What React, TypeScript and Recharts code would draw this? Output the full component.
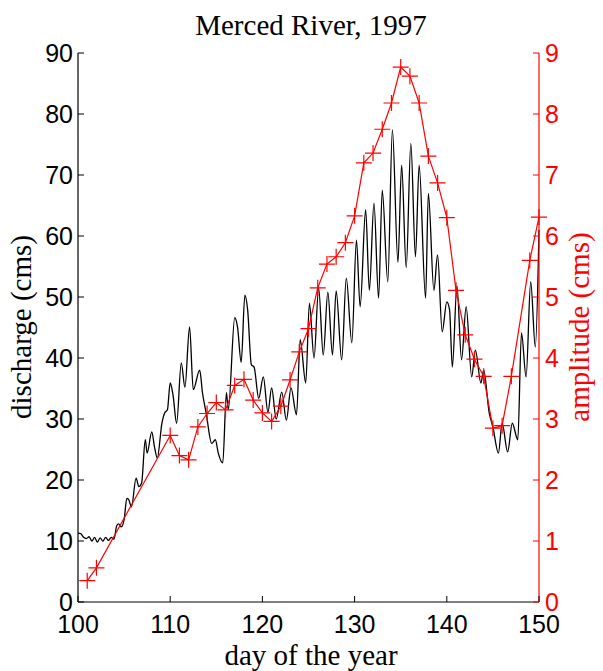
import React from 'react';
import { LineChart, Line, XAxis, YAxis } from 'recharts';

const dischargeDays = [
  100.0, 100.3, 100.6, 100.9, 101.2, 101.5, 101.8, 102.1, 102.4, 102.7, 103.0, 103.3, 103.6, 103.9,
  104.2, 104.4, 104.7, 105.0, 105.3, 105.5, 105.8, 106.3, 106.6, 106.9, 107.3, 107.5, 108.0, 108.3,
  108.6, 109.1, 109.4, 109.7, 110.0, 110.3, 110.7, 111.2, 111.6, 112.1, 112.5, 113.2, 113.5, 113.9,
  114.5, 114.9, 115.2, 115.7, 116.1, 116.3, 117.0, 117.3, 117.7, 118.1, 118.4, 118.8, 119.1, 119.6,
  120.1, 120.6, 121.0, 121.5, 122.1, 122.6, 123.1, 123.7, 124.1, 124.7, 125.1, 125.6, 126.1, 126.6,
  127.1, 127.6, 128.0, 128.6, 129.1, 129.7, 130.2, 130.6, 131.2, 131.6, 132.1, 132.6, 133.0, 133.6,
  134.1, 134.7, 135.1, 135.6, 136.1, 136.6, 137.0, 137.7, 138.0, 138.6, 139.0, 139.5, 140.0, 140.3,
  140.6, 141.1, 141.6, 142.1, 142.7, 143.1, 143.7, 144.0, 144.6, 145.0, 145.6, 146.0, 146.6, 147.1,
  147.7, 148.1, 148.6, 149.1, 149.6, 150.0,
];
const dischargeValues = [
  11.3, 11.2, 10.6, 10.4, 10.7, 10.0, 10.6, 9.8, 10.5, 10.0, 10.6, 10.1, 10.6, 10.3,
  12.5, 12.8, 12.3, 13.5, 17.0, 16.8, 15.6, 20.3, 18.9, 19.5, 26.6, 24.4, 27.9, 25.4,
  23.6, 29.3, 31.0, 31.5, 35.9, 34.0, 29.3, 39.2, 35.2, 45.1, 34.8, 38.0, 34.3, 31.0,
  26.0, 26.6, 24.5, 22.8, 34.3, 31.5, 46.6, 45.1, 39.3, 50.3, 47.9, 38.9, 38.5, 33.4,
  36.9, 31.1, 35.1, 30.0, 34.4, 29.8, 35.1, 30.7, 43.0, 35.9, 49.0, 40.0, 51.5, 40.5,
  50.8, 40.5, 51.0, 39.7, 53.1, 42.5, 59.3, 48.4, 64.3, 51.1, 65.4, 49.8, 67.5, 52.5,
  77.4, 55.7, 71.6, 54.8, 75.2, 56.6, 71.6, 49.8, 67.0, 51.1, 56.9, 44.3, 49.2, 47.9,
  38.5, 51.8, 39.7, 48.4, 36.9, 41.3, 35.9, 38.0, 31.0, 28.7, 24.4, 29.3, 24.6, 29.3,
  26.6, 44.1, 36.9, 52.5, 41.8, 61.0,
];

// daily amplitude (cms)
const amplitudeDays = [
  101, 102, 110, 111, 112, 113, 114, 115, 116, 117, 118, 119, 120, 121, 122, 123, 124, 125, 126,
  127, 128, 129, 130, 131, 132, 133, 134, 135, 136, 137, 138, 139, 140, 141, 142, 143, 144, 145,
  146, 147, 149, 150,
];
const amplitudeValues = [
  0.35, 0.56, 2.73, 2.4, 2.33, 2.87, 3.09, 3.27, 3.15, 3.55, 3.65, 3.31, 3.1, 2.96, 3.21, 3.64,
  4.1, 4.48, 5.15, 5.54, 5.66, 5.89, 6.33, 7.2, 7.36, 7.75, 8.18, 8.77, 8.62, 8.18, 7.31, 6.87,
  6.3, 5.11, 4.38, 3.98, 3.7, 2.85, 2.89, 3.7, 5.6, 6.31,
];

const xTicks = [100, 110, 120, 130, 140, 150];
const leftTicks = [0, 10, 20, 30, 40, 50, 60, 70, 80, 90];
const rightTicks = [0, 1, 2, 3, 4, 5, 6, 7, 8, 9];

const discharge = dischargeDays.map((d, i) => ({ day: d, q: dischargeValues[i] }));
const amplitude = amplitudeDays.map((d, i) => ({ day: d, a: amplitudeValues[i] }));

const SANS = '"Liberation Sans", Arial, sans-serif';
const SERIF = '"Liberation Serif", "Times New Roman", serif';
const RED = '#ff0000';

const BottomTick = ({ x, y, payload }: any) => (
  <g>
    <line x1={x} y1={y} x2={x} y2={y - 6} stroke="#000" />
    <text x={x} y={y + 31} textAnchor="middle" fontSize={25} fontFamily={SANS} fill="#000">
      {payload.value}
    </text>
  </g>
);

const LeftTick = ({ x, y, payload }: any) => (
  <g>
    <line x1={x} y1={y} x2={x + 6} y2={y} stroke="#000" />
    <text x={x - 5} y={y + 9} textAnchor="end" fontSize={25} fontFamily={SANS} fill="#000">
      {payload.value}
    </text>
  </g>
);

const RightTick = ({ x, y, payload }: any) => (
  <g>
    <line x1={x} y1={y} x2={x - 6} y2={y} stroke={RED} />
    <text x={x + 6} y={y + 9} textAnchor="start" fontSize={25} fontFamily={SANS} fill={RED}>
      {payload.value}
    </text>
  </g>
);

const PlusDot = (props: any) => {
  const { cx, cy, index } = props;
  return (
    <path
      key={`p-${index}`}
      d={`M${cx - 8},${cy}H${cx + 8}M${cx},${cy - 8}V${cy + 8}`}
      stroke={RED}
      strokeWidth={1.2}
      fill="none"
    />
  );
};

export default function App() {
  return (
    <div style={{ position: 'absolute', left: 0, top: 0, width: 603, height: 671, background: '#fff' }}>
      <LineChart width={603} height={671} margin={{ top: 53, right: 0, bottom: 0, left: 0 }}>
        <XAxis
          dataKey="day"
          type="number"
          domain={[100, 150]}
          ticks={xTicks}
          interval={0}
          height={69}
          tickSize={0}
          tickMargin={0}
          tickLine={false}
          axisLine={{ stroke: '#000', strokeWidth: 1.2 }}
          tick={<BottomTick />}
          allowDuplicatedCategory={false}
        />
        <YAxis
          yAxisId="left"
          domain={[0, 90]}
          ticks={leftTicks}
          interval={0}
          width={78}
          tickSize={0}
          tickMargin={0}
          tickLine={false}
          axisLine={{ stroke: '#000', strokeWidth: 1.2 }}
          tick={<LeftTick />}
        />
        <YAxis
          yAxisId="right"
          orientation="right"
          domain={[0, 9]}
          ticks={rightTicks}
          interval={0}
          width={64}
          tickSize={0}
          tickMargin={0}
          tickLine={false}
          axisLine={{ stroke: RED, strokeWidth: 1.2 }}
          tick={<RightTick />}
        />
        <Line
          yAxisId="left"
          data={discharge}
          dataKey="q"
          type="monotone"
          stroke="#000"
          strokeWidth={1.3}
          dot={false}
          activeDot={false}
          isAnimationActive={false}
        />
        <Line
          yAxisId="right"
          data={amplitude}
          dataKey="a"
          type="linear"
          stroke={RED}
          strokeWidth={1.2}
          dot={PlusDot}
          activeDot={false}
          isAnimationActive={false}
        />
      </LineChart>
      <svg
        width={603}
        height={671}
        style={{ position: 'absolute', left: 0, top: 0, pointerEvents: 'none' }}
      >
        <text x={311} y={35} textAnchor="middle" fontSize={29} fontFamily={SERIF} fill="#000">
          Merced River, 1997
        </text>
        <text x={311} y={665} textAnchor="middle" fontSize={29} fontFamily={SERIF} fill="#000">
          day of the year
        </text>
        <text
          x={31}
          y={327}
          textAnchor="middle"
          fontSize={29}
          fontFamily={SERIF}
          fill="#000"
          transform="rotate(-90 31 327)"
        >
          discharge (cms)
        </text>
        <text
          x={589}
          y={327}
          textAnchor="middle"
          fontSize={29}
          fontFamily={SERIF}
          fill={RED}
          transform="rotate(-90 589 327)"
        >
          amplitude (cms)
        </text>
      </svg>
    </div>
  );
}
